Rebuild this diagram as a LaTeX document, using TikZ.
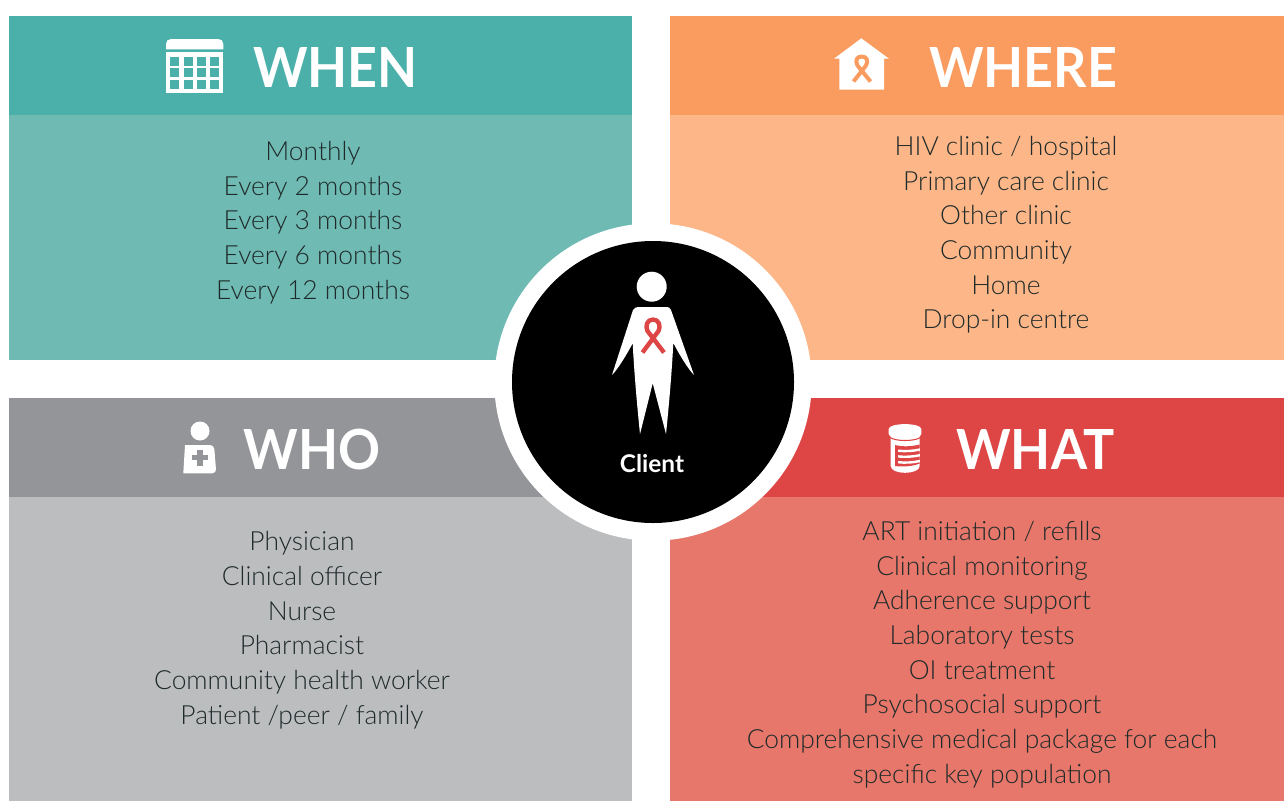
\documentclass[tikz,border=0pt]{standalone}
\usepackage{fontspec}
\setmainfont{Lato}[UprightFont=* Light,BoldFont=* Bold]
\newfontfamily\titlefont{Lato}[UprightFont=* Bold,FakeStretch=0.94]
\definecolor{tealh}{HTML}{4AB0A9}
\definecolor{tealb}{HTML}{6FBBB4}
\definecolor{orah}{HTML}{FA9C5F}
\definecolor{orab}{HTML}{FCB687}
\definecolor{grayh}{HTML}{939598}
\definecolor{grayb}{HTML}{BCBDBF}
\definecolor{redh}{HTML}{DE4545}
\definecolor{redb}{HTML}{E6776A}
\definecolor{ink}{HTML}{1F2A2A}
\tikzset{
  listtext/.style={anchor=north,inner sep=0pt,align=center,text=ink,font=\fontsize{19.8}{26}\selectfont},
  titletext/.style={anchor=base,inner sep=0pt,text=white,font=\fontsize{41.5}{48}\titlefont},
}
\newcommand{\FS}{\rule{0pt}{20pt}}
\begin{document}
\begin{tikzpicture}[x=0.75pt,y=-0.75pt]
\useasboundingbox (0,0) rectangle (1284,801);
% panels
\fill[tealb] (9,115) rectangle (632,360);
\fill[tealh] (9,16) rectangle (632,115);
\fill[orab] (670,115) rectangle (1284,360);
\fill[orah] (670,16) rectangle (1284,115);
\fill[grayb] (9,497) rectangle (632,801);
\fill[grayh] (9,398) rectangle (632,497);
\fill[redb] (670,497) rectangle (1284,801);
\fill[redh] (670,398) rectangle (1284,497);
% titles
\node[titletext] (whent) at (335.5,87) {WHEN};
\node[titletext] (wheret) at (1023,87) {WHERE};
\node[titletext] (whot) at (312,469) {WHO};
\node[titletext] (whatt) at (1035.5,469) {WHAT};
% lists
\node[listtext] (whenl) at (313,133.6) {\FS Monthly\\Every 2 months\\Every 3 months\\Every 6 months\\Every 12 months};
\node[listtext] (wherel) at (1006,128.6) {\FS HIV clinic / hospital\\Primary care clinic\\Other clinic\\Community\\Home\\Drop-in centre};
\node[listtext] (whol) at (302,524) {\FS Physician\\Clinical officer\\Nurse\\Pharmacist\\Community health worker\\Patient /peer / family};
\node[listtext] (whatl) at (982,513.6) {\FS ART initiation / refills\\Clinical monitoring\\Adherence support\\Laboratory tests\\OI treatment\\Psychosocial support\\Comprehensive medical package for each\\specific key population};
% calendar icon
\fill[white] (166,49.3) -- (166,44) .. controls (166,41) and (168,39) .. (171,39) -- (218.3,39) .. controls (221.3,39) and (223.3,41) .. (223.3,44) -- (223.3,49.3) -- cycle;
\fill[white] (166,52.3) rectangle (223.3,93.3);
\foreach \cx in {170,183.6,197,210.4}
  \foreach \cy in {56.7,68.3,80}
    \fill[tealh] (\cx,\cy) rectangle ++(9,9);
% house icon
\fill[white] (861.3,38.3) -- (889,58.7) -- (884,58.7) -- (884,89.7) -- (839.3,89.7) -- (839.3,58.7) -- (834,58.7) -- cycle;
\draw[orah,line width=3pt,line join=round]
  (853.5,81.5) -- (866,65.5) .. controls (868.5,61) and (867,56.5) .. (861.7,56.5)
  .. controls (856.4,56.5) and (855,61) .. (857.5,65.5) -- (870.5,81.5);
% who icon
\fill[white] (200,431) circle[radius=9.5];
\fill[white,rounded corners=3pt] (185,445) -- (214,445) -- (216.3,473.3) [sharp corners] -- (183.3,473.3) -- cycle;
\fill[grayh] (197.3,449.7) rectangle (202.7,465.7);
\fill[grayh] (192,455) rectangle (208,460.4);
% pill bottle icon
\fill[white] (890.7,436) -- (919.7,436) -- (919.7,466) .. controls (919.7,470.5) and (912,472.8) .. (905,472.8) .. controls (898,472.8) and (890.7,470.5) .. (890.7,466) -- cycle;
\draw[redh,line width=0.8pt] (890,437.5) .. controls (896,441.5) and (914,441.5) .. (920.5,437.5);
\fill[white] (888.7,429) .. controls (888.7,422.5) and (921.3,422.5) .. (921.3,429) -- (921.3,434) .. controls (921.3,440.5) and (888.7,440.5) .. (888.7,434) -- cycle;
\fill[redh] (895,445) .. controls (903,447) and (912,446.5) .. (919.7,444.5) -- (919.7,463.5) .. controls (912,466.5) and (903,467) .. (895,466) -- cycle;
\foreach \sy in {449.5,455.2,461}
  \fill[white] (898,\sy) .. controls (905,\sy+0.8) and (913,\sy+0.3) .. (919.9,\sy-1.2) -- (919.9,\sy+1.2) .. controls (913,\sy+2.8) and (905,\sy+3.2) .. (898,\sy+2.4) -- cycle;
% centre disc
\fill[white] (653,382) circle[radius=158.7];
\fill[black] (653,382) circle[radius=141];
% person
\fill[white] (651.7,286.7) circle[radius=15];
\fill[white] (640,307) -- (667,307) .. controls (669,307) and (670,308) .. (671,310)
  -- (694,375) .. controls (688,369) and (679,354) .. (673.3,343)
  .. controls (672,370) and (669,405) .. (666,434) -- (652.7,383.3) -- (640,434)
  .. controls (637,405) and (634,370) .. (632.7,343.3)
  .. controls (627,354) and (618,369) .. (612,375)
  -- (633,310) .. controls (634,308) and (636,307) .. (640,307) -- cycle;
\draw[redh,line width=3.3pt,line join=round]
  (642.5,352.5) -- (658.5,331) .. controls (661,326) and (659,319.5) .. (653,319.5)
  .. controls (647,319.5) and (645,326) .. (647.5,331) -- (664,352.5);
\node[anchor=base,inner sep=0pt,text=white,font=\fontsize{18.3}{20}\selectfont\bfseries] (client) at (652,472) {Client};
\end{tikzpicture}
\end{document}
